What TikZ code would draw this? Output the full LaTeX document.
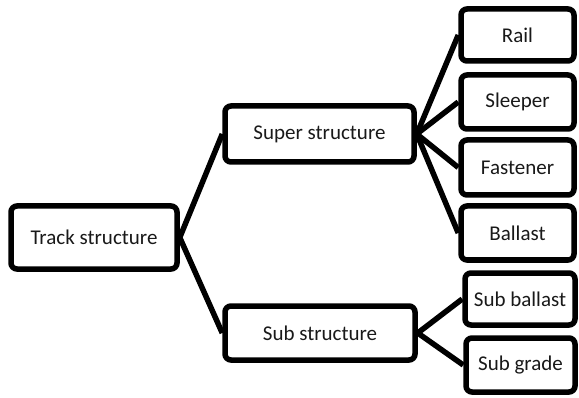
\documentclass[tikz,border=0pt]{standalone}
\usepackage{fontspec}
\setmainfont{Carlito}
\begin{document}
\begin{tikzpicture}[x=1pt,y=1pt,
  box/.style={draw=black, line width=5.5pt, rounded corners=6pt, fill=white,
    inner sep=0pt, font=\fontsize{21}{25}\selectfont, text=black!90},
  link/.style={draw=black, line width=5.5pt}]
\useasboundingbox (0,0) rectangle (579,397);
% level 0
\node[box, minimum width=166pt, minimum height=63pt] (track) at (94,159.5) {Track structure};
% level 1
\node[box, minimum width=189pt, minimum height=56pt] (super) at (319.5,263) {Super structure};
\node[box, minimum width=190pt, minimum height=54pt] (sub) at (320,64) {Sub structure};
% level 2
\node[box, minimum width=113pt, minimum height=52pt] (rail) at (517.5,362) {Rail};
\node[box, minimum width=113pt, minimum height=54pt] (sleeper) at (517.5,295) {Sleeper};
\node[box, minimum width=113pt, minimum height=55pt] (fastener) at (517.5,229.5) {Fastener};
\node[box, minimum width=113pt, minimum height=54pt] (ballast) at (517.5,164) {Ballast};
\node[box, minimum width=110pt, minimum height=52pt] (subballast) at (520,98) {Sub ballast};
\node[box, minimum width=109pt, minimum height=54pt] (subgrade) at (520.5,32) {Sub grade};
% connectors from each parent to its children
\foreach \c in {super,sub} \draw[link] (track.east) -- (\c.west);
\foreach \c in {rail,sleeper,fastener,ballast} \draw[link] (super.east) -- (\c.west);
\foreach \c in {subballast,subgrade} \draw[link] (sub.east) -- (\c.west);
\end{tikzpicture}
\end{document}
